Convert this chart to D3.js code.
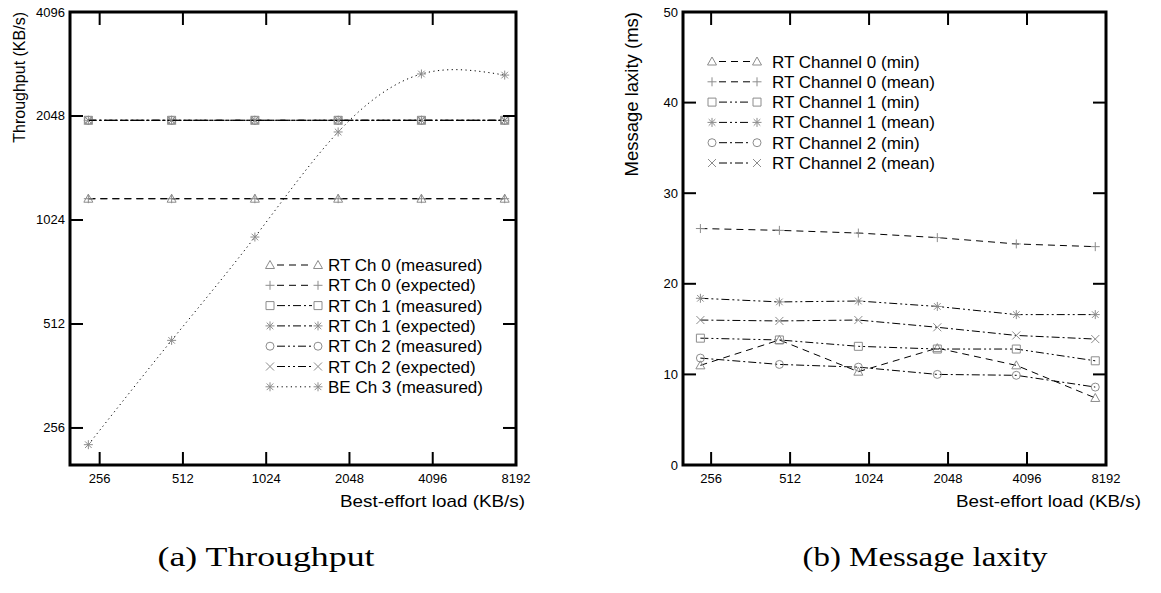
<!DOCTYPE html>
<html lang="en">
<head>
  <meta charset="UTF-8">
  <title>Throughput and message laxity</title>
  <script src="https://d3js.org/d3.v7.min.js"></script>
  <style>
    body { margin: 0; background: #fff; }
    svg { font-family: "Liberation Sans", Arial, sans-serif; }
    .caption { font-family: "Liberation Serif", "DejaVu Serif", serif; }
  </style>
</head>
<body>
  <svg width="1161" height="593"></svg>
  <script>
    // load on the x axis (KB/s) and tick values
    const loads = [233, 466, 932, 1864, 3728, 7456];
    const xTicks = [256, 512, 1024, 2048, 4096, 8192];
    const thruTicks = [256, 512, 1024, 2048, 4096];
    const laxTicks = [0, 10, 20, 30, 40, 50];

    // (a) throughput, KB/s
    const rt0Measured = [1180, 1180, 1180, 1180, 1180, 1180];
    const rt0Expected = [1180, 1180, 1180, 1180, 1180, 1180];
    const rt1Measured = [1990, 1990, 1990, 1990, 1990, 1990];
    const rt1Expected = [1990, 1990, 1990, 1990, 1990, 1990];
    const rt2Measured = [1990, 1990, 1990, 1990, 1990, 1990];
    const rt2Expected = [1990, 1990, 1990, 1990, 1990, 1990];
    const be3Measured = [229, 459, 914, 1841, 2710, 2690];

    // (b) message laxity, ms
    const ch0Min = [11.0, 13.8, 10.3, 12.9, 11.0, 7.4];
    const ch0Mean = [26.1, 25.9, 25.6, 25.1, 24.4, 24.1];
    const ch1Min = [14.0, 13.8, 13.1, 12.8, 12.8, 11.5];
    const ch1Mean = [18.4, 18.0, 18.1, 17.5, 16.6, 16.6];
    const ch2Min = [11.8, 11.1, 10.8, 10.0, 9.9, 8.6];
    const ch2Mean = [16.0, 15.9, 16.0, 15.2, 14.3, 13.9];

    const DASH = "7,5", DASHDOT = "8,3,2,3", DASHDOTDOT = "8,3,2,3,2,3", DOTS = "1.2,3.4";

    const symbols = {
      triangle: "M0,-4.5L4.5,3.5L-4.5,3.5Z",
      plus: "M-4.5,0H4.5M0,-4.5V4.5",
      square: "M-4,-4H4V4H-4Z",
      star: "M-4.5,0H4.5M0,-4.5V4.5M-3.3,-3.3L3.3,3.3M-3.3,3.3L3.3,-3.3",
      circle: "M4,0A4,4 0 1,1 -4,0A4,4 0 1,1 4,0Z",
      cross: "M-4,-4L4,4M-4,4L4,-4"
    };

    const svg = d3.select("svg");
    const plotTop = 12, plotBottom = 465;

    function drawPanel(o) {
      const g = svg.append("g");
      const x = d3.scaleLog().base(2).domain([200, 8192]).range([o.left, o.right]);
      const y = o.y;

      // series
      o.series.forEach(s => {
        const pts = loads.map((l, i) => [x(l), y(s.values[i])]);
        g.append("path")
          .attr("fill", "none")
          .attr("stroke", "#000")
          .attr("stroke-width", 1)
          .attr("stroke-dasharray", s.dash)
          .attr("d", d3.line().curve(s.smooth ? d3.curveNatural : d3.curveLinear)(pts));
        g.selectAll(null).data(pts).enter().append("path")
          .attr("transform", d => `translate(${d[0]},${d[1]})`)
          .attr("d", symbols[s.sym])
          .attr("fill", "none")
          .attr("stroke", "#8c8c8c")
          .attr("stroke-width", 1);
      });

      // ticks, inside on all four sides
      const tk = g.append("g").attr("stroke", "#000").attr("stroke-width", 2);
      xTicks.forEach(t => {
        tk.append("line").attr("x1", x(t)).attr("x2", x(t)).attr("y1", plotBottom).attr("y2", plotBottom - 13);
        tk.append("line").attr("x1", x(t)).attr("x2", x(t)).attr("y1", plotTop).attr("y2", plotTop + 13);
      });
      o.yTicks.forEach(t => {
        tk.append("line").attr("x1", o.left).attr("x2", o.left + 13).attr("y1", y(t)).attr("y2", y(t));
        tk.append("line").attr("x1", o.right).attr("x2", o.right - 13).attr("y1", y(t)).attr("y2", y(t));
      });

      g.append("rect")
        .attr("x", o.left).attr("y", plotTop)
        .attr("width", o.right - o.left).attr("height", plotBottom - plotTop)
        .attr("fill", "none").attr("stroke", "#000").attr("stroke-width", 3);

      g.selectAll(".xl").data(xTicks).enter().append("text")
        .attr("x", d => x(d)).attr("y", 483)
        .attr("text-anchor", "middle").attr("font-size", 13).text(d => d);
      g.selectAll(".yl").data(o.yTicks).enter().append("text")
        .attr("x", o.left - 5).attr("y", d => y(d) + 4.5)
        .attr("text-anchor", "end").attr("font-size", 13).text(d => d);

      g.append("text")
        .attr("x", o.xLabelEnd).attr("y", 507)
        .attr("text-anchor", "end").attr("font-size", 17)
        .attr("textLength", 185).attr("lengthAdjust", "spacingAndGlyphs")
        .text("Best-effort load (KB/s)");
      g.append("text")
        .attr("transform", `translate(${o.left - 45},${plotTop}) rotate(-90)`)
        .attr("text-anchor", "end").attr("font-size", o.yLabelSize)
        .text(o.yLabel);

      // legend
      o.series.forEach((s, i) => {
        const ly = o.legY + i * o.legStep;
        const row = g.append("g");
        row.append("path")
          .attr("d", `M${o.legX + 7},${ly}H${o.legX + o.legMk2 - 6}`)
          .attr("stroke", "#000").attr("stroke-width", 1)
          .attr("stroke-dasharray", s.dash);
        [o.legX, o.legX + o.legMk2].forEach(mx => row.append("path")
          .attr("transform", `translate(${mx},${ly})`)
          .attr("d", symbols[s.sym])
          .attr("fill", "#fff").attr("stroke", "#8c8c8c").attr("stroke-width", 1));
        row.append("text")
          .attr("x", o.legX + o.legText).attr("y", ly + 6)
          .attr("font-size", 17).text(s.name);
      });

      g.append("text").attr("class", "caption")
        .attr("x", o.capX).attr("y", 566)
        .attr("text-anchor", "middle").attr("font-size", 28)
        .attr("textLength", o.capW).attr("lengthAdjust", "spacingAndGlyphs")
        .text(o.caption);
    }

    drawPanel({
      left: 70, right: 516,
      y: d3.scaleLog().base(2).domain([200, 4096]).range([plotBottom, plotTop]),
      yTicks: thruTicks,
      yLabel: "Throughput (KB/s)", yLabelSize: 16,
      xLabelEnd: 525,
      legX: 270, legMk2: 48, legText: 58, legY: 265, legStep: 20.3,
      capX: 266, capW: 217, caption: "(a) Throughput",
      series: [
        { name: "RT Ch 0 (measured)", values: rt0Measured, sym: "triangle", dash: DASH },
        { name: "RT Ch 0 (expected)", values: rt0Expected, sym: "plus", dash: DASH },
        { name: "RT Ch 1 (measured)", values: rt1Measured, sym: "square", dash: DASHDOT },
        { name: "RT Ch 1 (expected)", values: rt1Expected, sym: "star", dash: DASHDOT },
        { name: "RT Ch 2 (measured)", values: rt2Measured, sym: "circle", dash: DASHDOTDOT },
        { name: "RT Ch 2 (expected)", values: rt2Expected, sym: "cross", dash: DASHDOTDOT },
        { name: "BE Ch 3 (measured)", values: be3Measured, sym: "star", dash: DOTS, smooth: true }
      ]
    });

    drawPanel({
      left: 683, right: 1106,
      y: d3.scaleLinear().domain([0, 50]).range([plotBottom, plotTop]),
      yTicks: laxTicks,
      yLabel: "Message laxity (ms)", yLabelSize: 18.5,
      xLabelEnd: 1141,
      legX: 712, legMk2: 45, legText: 60, legY: 61.5, legStep: 20.3,
      capX: 925, capW: 245, caption: "(b) Message laxity",
      series: [
        { name: "RT Channel 0 (min)", values: ch0Min, sym: "triangle", dash: DASH },
        { name: "RT Channel 0 (mean)", values: ch0Mean, sym: "plus", dash: DASH },
        { name: "RT Channel 1 (min)", values: ch1Min, sym: "square", dash: DASHDOTDOT },
        { name: "RT Channel 1 (mean)", values: ch1Mean, sym: "star", dash: DASHDOTDOT },
        { name: "RT Channel 2 (min)", values: ch2Min, sym: "circle", dash: DASHDOT },
        { name: "RT Channel 2 (mean)", values: ch2Mean, sym: "cross", dash: DASHDOT }
      ]
    });
  </script>
</body>
</html>
